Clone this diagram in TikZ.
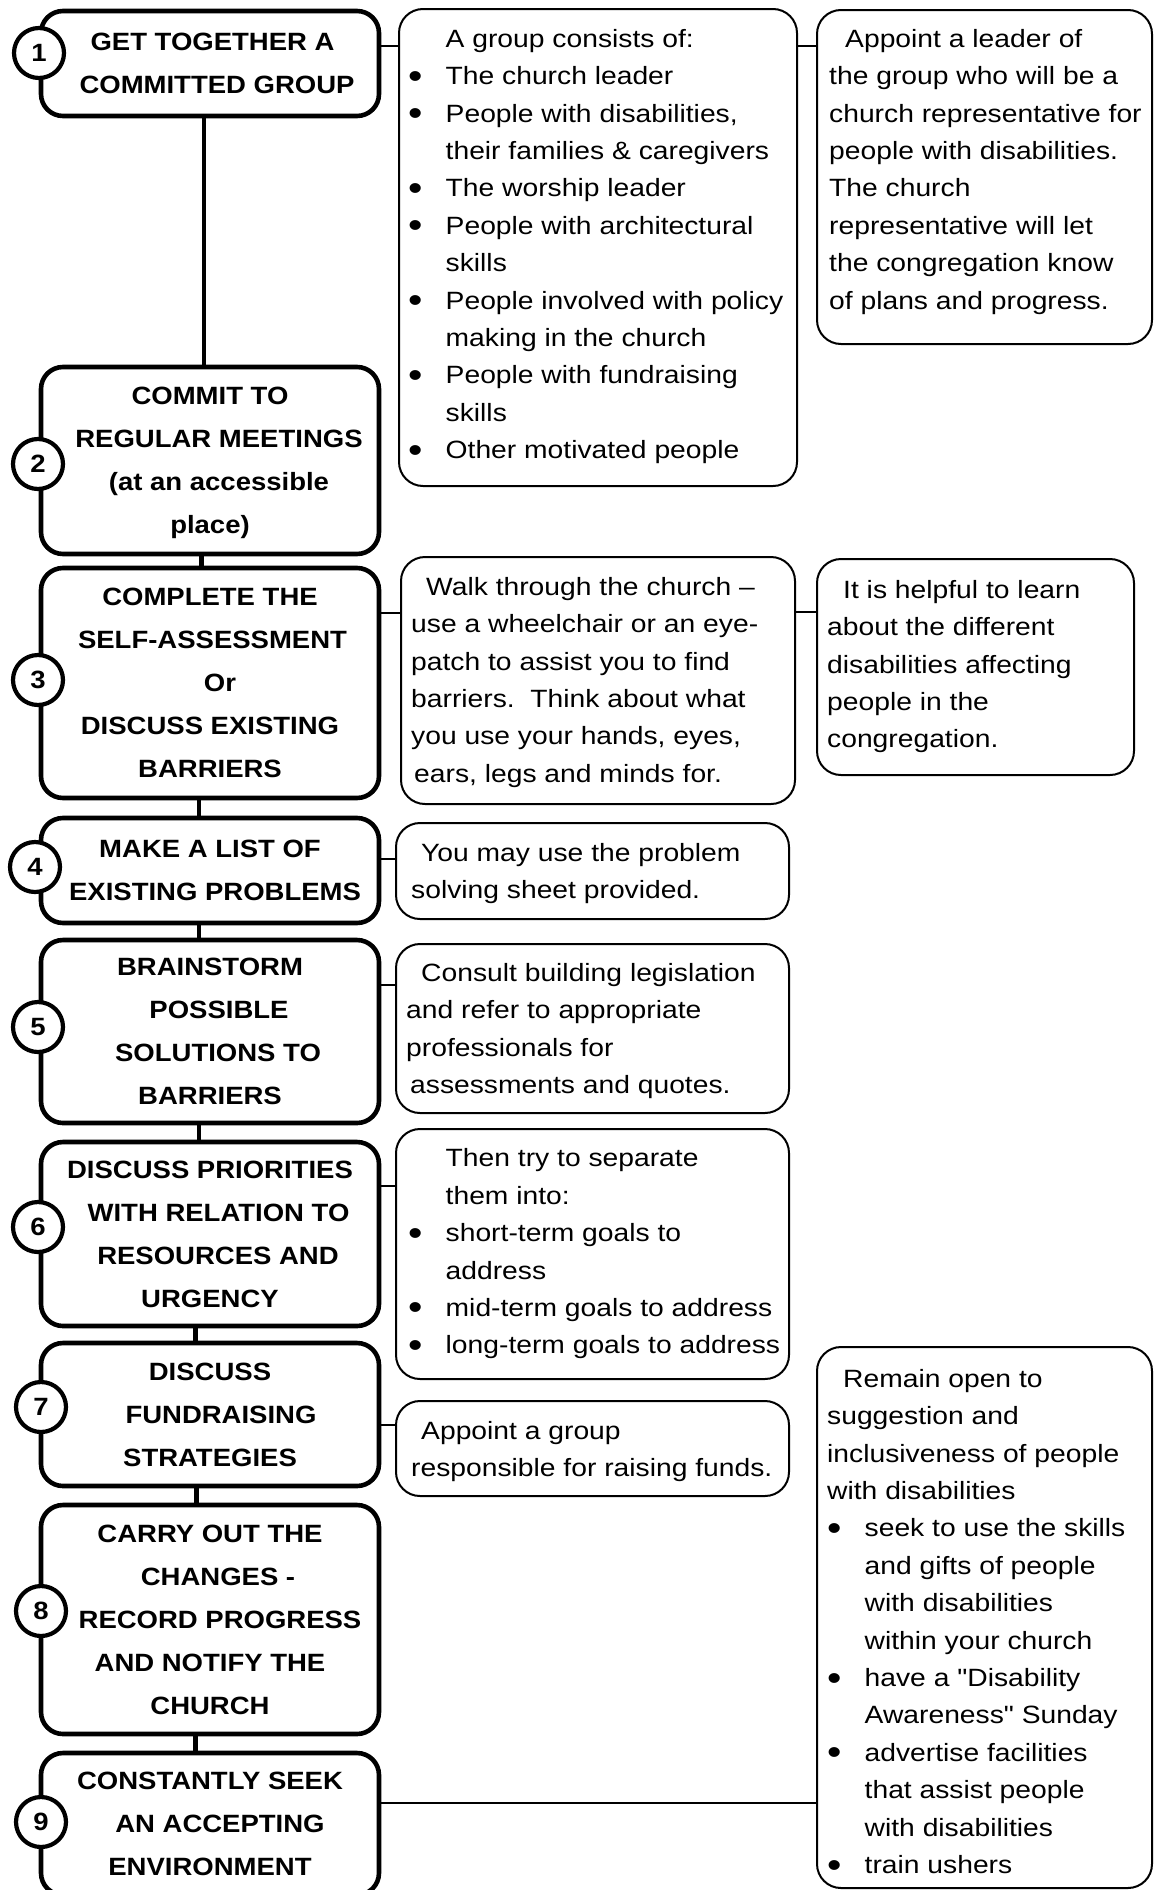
\documentclass[tikz,border=0pt]{standalone}
\usepackage{graphicx}
\usepackage{fontspec}
\setmainfont{Liberation Sans}
\newfontfamily\boxfont[FakeStretch=1.10]{Liberation Sans}
\newfontfamily\notefont[FakeStretch=1.13]{Liberation Sans}
\newcommand\myDot{\raisebox{-3.5pt}{\scalebox{1.45}{•}}}
\newcommand\myB[1]{\makebox[37.5pt][l]{\myDot}#1}
\newcommand\myI{\hspace*{37.5pt}}
\tikzset{
  mainbox/.style={draw, line width=4.6pt, rounded corners=22pt, fill=white,
    minimum width=338pt, align=center, inner sep=0pt,
    font=\boxfont\bfseries\fontsize{25}{43}\selectfont},
  numcirc/.style={circle, draw, line width=4.2pt, fill=white, minimum size=50pt,
    inner sep=0pt, font=\boxfont\bfseries\fontsize{25}{30}\selectfont},
  notebox/.style={draw, line width=2pt, rounded corners=24pt, fill=white, inner sep=0pt},
  notetext/.style={anchor=north west, align=left, inner sep=0pt,
    font=\notefont\fontsize{25}{37.4}\selectfont},
  spine/.style={line width=4.6pt},
  link/.style={line width=2pt},
}
\begin{document}
\begin{tikzpicture}[x=1pt,y=-1pt]
\fill[white] (0,0) rectangle (1158,1890);
\useasboundingbox (0,0) rectangle (1158,1890);

% main step boxes
\node[mainbox, minimum height=105pt] (b1) at (210,63.5)
  {\hspace*{5pt}GET TOGETHER A\\\hspace*{14pt}COMMITTED GROUP};
\node[mainbox, minimum height=187pt] (b2) at (210,460.5)
  {COMMIT TO\\\hspace*{18pt}REGULAR MEETINGS\\\hspace*{18pt}(at an accessible\\\smash{place)}};
\node[mainbox, minimum height=230pt] (b3) at (210,683)
  {COMPLETE THE\\\hspace*{5pt}SELF-ASSESSMENT\\\hspace*{20pt}Or\\DISCUSS EXISTING\\BARRIERS};
\node[mainbox, minimum height=105pt] (b4) at (210,870.5)
  {MAKE A LIST OF\\\hspace*{10pt}EXISTING PROBLEMS};
\node[mainbox, minimum height=183pt] (b5) at (210,1031.5)
  {BRAINSTORM\\\hspace*{18pt}POSSIBLE\\\hspace*{16pt}SOLUTIONS TO\\BARRIERS};
\node[mainbox, minimum height=184pt] (b6) at (210,1234)
  {DISCUSS PRIORITIES\\\hspace*{17pt}WITH RELATION TO\\\hspace*{16pt}RESOURCES AND\\URGENCY};
\node[mainbox, minimum height=143pt] (b7) at (210,1414.5)
  {DISCUSS\\\hspace*{22pt}FUNDRAISING\\STRATEGIES};
\node[mainbox, minimum height=229pt] (b8) at (210,1619.5)
  {CARRY OUT THE\\\hspace*{16pt}CHANGES -\\\hspace*{20pt}RECORD PROGRESS\\AND NOTIFY THE\\CHURCH};
\node[mainbox, minimum height=142pt] (b9) at (210,1824)
  {CONSTANTLY SEEK\\\hspace*{20pt}AN ACCEPTING\\ENVIRONMENT};

% number circles
\node[numcirc] (c1) at (39,53) {1};
\node[numcirc] (c2) at (38,464) {2};
\node[numcirc] (c3) at (38,680) {3};
\node[numcirc] (c4) at (35,867) {4};
\node[numcirc] (c5) at (38,1027) {5};
\node[numcirc] (c6) at (38,1227) {6};
\node[numcirc] (c7) at (41,1407) {7};
\node[numcirc] (c8) at (41,1611) {8};
\node[numcirc] (c9) at (41,1822) {9};

% note boxes
\node[notebox, minimum width=398pt, minimum height=477pt] (a1) at (598,247.5) {};
\node[notebox, minimum width=335pt, minimum height=334pt] (r1) at (984.5,177) {};
\node[notebox, minimum width=394pt, minimum height=247pt] (a3) at (598,680.5) {};
\node[notebox, minimum width=317pt, minimum height=216pt] (r3) at (975.5,667) {};
\node[notebox, minimum width=393pt, minimum height=96pt] (a4) at (592.5,871) {};
\node[notebox, minimum width=393pt, minimum height=169pt] (a5) at (592.5,1028.5) {};
\node[notebox, minimum width=393pt, minimum height=250pt] (a6) at (592.5,1254) {};
\node[notebox, minimum width=393pt, minimum height=95pt] (a7) at (592.5,1448.5) {};
\node[notebox, minimum width=335pt, minimum height=541pt] (r9) at (984.5,1617.5) {};

% note texts
\node[notetext] (a1t) at (408,29) {\myI A group consists of:\\
\myB{The church leader}\\
\myB{People with disabilities,}\\
\myI their families \& caregivers\\
\myB{The worship leader}\\
\myB{People with architectural}\\
\myI skills\\
\myB{People involved with policy}\\
\myI making in the church\\
\myB{People with fundraising}\\
\myI skills\\
\myB{Other motivated people}};
\node[notetext] (r1t) at (829,29) {\hspace*{16pt}Appoint a leader of\\
the group who will be a\\
church representative for\\
people with disabilities.\\
The church\\
representative will let\\
the congregation know\\
of plans and progress.};
\node[notetext] (a3t) at (411,577) {\hspace*{15pt}Walk through the church –\\
use a wheelchair or an eye-\\
patch to assist you to find\\
barriers.\ \ Think about what\\
you use your hands, eyes,\\
\hspace*{3pt}ears, legs and minds for.};
\node[notetext] (r3t) at (827,580) {\hspace*{16pt}It is helpful to learn\\
about the different\\
disabilities affecting\\
people in the\\
congregation.};
\node[notetext] (a4t) at (411,843) {\hspace*{10pt}You may use the problem\\
solving sheet provided.};
\node[notetext] (a5t) at (406,963) {\hspace*{15pt}Consult building legislation\\
and refer to appropriate\\
professionals for\\
\hspace*{4pt}assessments and quotes.};
\node[notetext] (a6t) at (408,1148.5) {\myI Then try to separate\\
\myI them into:\\
\myB{short-term goals to}\\
\myI address\\
\myB{mid-term goals to address}\\
\myB{long-term goals to address}};
\node[notetext] (a7t) at (411,1421) {\hspace*{10pt}Appoint a group\\
responsible for raising funds.};
\node[notetext] (r9t) at (827,1369) {\hspace*{16pt}Remain open to\\
suggestion and\\
inclusiveness of people\\
with disabilities\\
\myB{seek to use the skills}\\
\myI and gifts of people\\
\myI with disabilities\\
\myI within your church\\
\myB{have a "Disability}\\
\myI Awareness" Sunday\\
\myB{advertise facilities}\\
\myI that assist people\\
\myI with disabilities\\
\myB{train ushers}};

% spine connectors
\draw[spine] ([xshift=-6pt]b1.south) -- ([xshift=-6pt]b2.north);
\draw[spine] ([xshift=-8.5pt]b2.south) -- ([xshift=-8.5pt]b3.north);
\draw[spine] ([xshift=-11pt]b3.south) -- ([xshift=-11pt]b4.north);
\draw[spine] ([xshift=-11pt]b4.south) -- ([xshift=-11pt]b5.north);
\draw[spine] ([xshift=-11pt]b5.south) -- ([xshift=-11pt]b6.north);
\draw[spine] ([xshift=-14.5pt]b6.south) -- ([xshift=-14.5pt]b7.north);
\draw[spine] ([xshift=-13.5pt]b7.south) -- ([xshift=-13.5pt]b8.north);
\draw[spine] ([xshift=-14.5pt]b8.south) -- ([xshift=-14.5pt]b9.north);

% side connectors
\coordinate (y1) at (0,46);
\coordinate (y3) at (0,613);
\coordinate (y3r) at (0,612);
\coordinate (y4) at (0,859);
\coordinate (y5) at (0,985);
\coordinate (y6) at (0,1186);
\coordinate (y7) at (0,1425);
\coordinate (y9) at (0,1803);
\draw[link] (b1.east |- y1) -- (a1.west |- y1);
\draw[link] (a1.east |- y1) -- (r1.west |- y1);
\draw[link] (b3.east |- y3) -- (a3.west |- y3);
\draw[link] (a3.east |- y3r) -- (r3.west |- y3r);
\draw[link] (b4.east |- y4) -- (a4.west |- y4);
\draw[link] (b5.east |- y5) -- (a5.west |- y5);
\draw[link] (b6.east |- y6) -- (a6.west |- y6);
\draw[link] (b7.east |- y7) -- (a7.west |- y7);
\draw[link] (b9.east |- y9) -- (r9.west |- y9);
\end{tikzpicture}
\end{document}
